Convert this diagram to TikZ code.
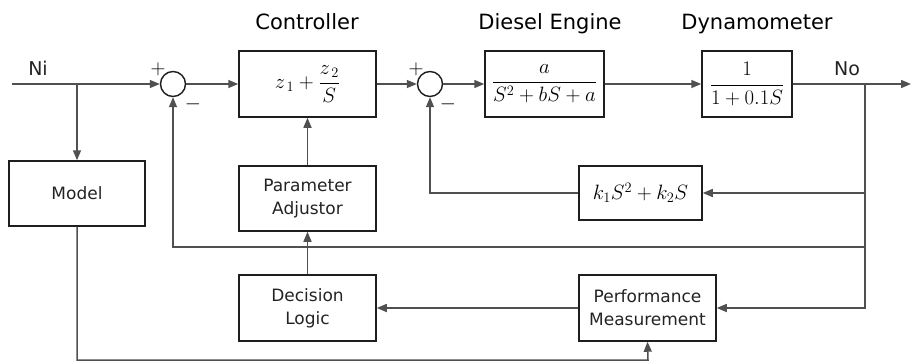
\documentclass[tikz,border=0pt]{standalone}
\usepackage{fontspec}
\setmainfont{DejaVu Sans}
\usetikzlibrary{arrows.meta,calc}
\definecolor{ln}{RGB}{80,80,80}
\definecolor{bx}{RGB}{30,30,30}
\definecolor{tx}{RGB}{35,35,35}
\tikzset{
  blk/.style={draw=bx,line width=1.5pt,rectangle,inner sep=0pt,text=tx,align=center,font=\fontsize{17}{23}\selectfont},
  mathblk/.style={draw=bx,line width=1.5pt,rectangle,inner sep=0pt,text=black,font=\fontsize{22}{26}\selectfont},
  sumc/.style={draw=bx,line width=1.4pt,circle,minimum size=25pt,inner sep=0pt},
  conn/.style={draw=ln,line width=1.5pt,-{Triangle[length=10pt,width=8pt]}},
  ttl/.style={anchor=base,text=black,font=\fontsize{21}{24}\selectfont},
  sig/.style={anchor=base,text=tx,font=\fontsize{19}{22}\selectfont},
  sgn/.style={text=black,font=\fontsize{20}{22}\selectfont}
}
\begin{document}
\begin{tikzpicture}[x=1pt,y=-1pt]
\useasboundingbox (0,0) rectangle (912,361);
% blocks
\node[mathblk,minimum width=137pt,minimum height=66pt] (ctrl) at (307.5,84) {$\displaystyle z_{\,1} + \frac{z_{\,2}}{S}$};
\node[mathblk,minimum width=119pt,minimum height=66pt] (eng) at (544.5,84) {$\displaystyle\frac{a}{S^2+bS+a}$};
\node[mathblk,minimum width=90pt,minimum height=66pt] (dyn) at (747,84) {$\displaystyle\frac{1}{1+0.1S}$};
\node[blk,minimum width=136pt,minimum height=65pt] (model) at (77,193.5) {Model};
\node[blk,minimum width=137pt,minimum height=65pt] (pa) at (307.5,198.5) {Parameter\\Adjustor};
\node[blk,minimum width=137pt,minimum height=66pt] (dl) at (307.5,308) {Decision\\Logic};
\node[mathblk,minimum width=123pt,minimum height=54pt] (kb) at (640.5,193) {$k_1S^2+k_2S$};
\node[blk,minimum width=137pt,minimum height=66pt] (pm) at (647.5,308) {Performance\\Measurement};
\node[sumc] (s1) at (173,84) {};
\node[sumc] (s2) at (430,84) {};
% titles and labels
\node[ttl] (tc) at (307,30) {Controller};
\node[ttl] (te) at (550,30) {Diesel Engine};
\node[ttl] (td) at (757,30) {Dynamometer};
\node[sig] (ni) at (38,75) {Ni};
\node[sig] (no) at (847,75) {No};
\node[sgn] (p1) at (158,69) {$+$};
\node[sgn] (m1) at (193,104) {$-$};
\node[sgn] (p2) at (416,69) {$+$};
\node[sgn] (m2) at (448,104) {$-$};
% coordinates
\coordinate (in) at (12,84);
\coordinate (j1) at (77,84);
\coordinate (out) at (911,84);
\coordinate (b) at (865,84);
\coordinate (fbr) at (865,247);
\coordinate (mb) at (648,360);
% connectors
\draw[conn] (in) -- (s1.west);
\draw[conn] (j1) -- (model.north);
\draw[conn] (s1.east) -- (ctrl.west);
\draw[conn] (ctrl.east) -- (s2.west);
\draw[conn] (s2.east) -- (eng.west);
\draw[conn] (eng.east) -- (dyn.west);
\draw[conn] (dyn.east) -- (out);
\draw[conn] (b) |- (pm.east);
\draw[conn] (b |- kb.east) -- (kb.east);
\draw[conn] (kb.west) -| (s2.south);
\draw[conn] (fbr) -| (s1.south);
\draw[conn] (pa.north) -- (ctrl.south);
\draw[conn] (dl.north) -- (pa.south);
\draw[conn] (pm.west) -- (dl.east);
\draw[conn] (model.south) |- (mb) -- (pm.south);
\end{tikzpicture}
\end{document}
